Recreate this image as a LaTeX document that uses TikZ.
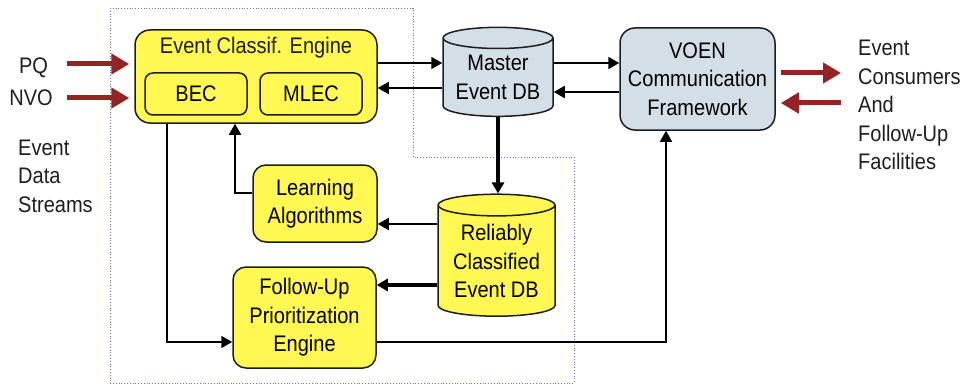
\documentclass[tikz,border=0pt]{standalone}
\usepackage{fontspec}
\setmainfont{Liberation Sans}[FakeStretch=0.89]
\usetikzlibrary{shapes.geometric,arrows.meta}
\definecolor{boxyellow}{RGB}{255,248,82}
\definecolor{dbblue}{RGB}{212,222,231}
\definecolor{flowred}{RGB}{150,35,35}
\definecolor{edgegray}{RGB}{30,30,30}
\definecolor{frameblue}{RGB}{110,110,210}
\begin{document}
\begin{tikzpicture}[x=1pt,y=-1pt,
  font=\fontsize{22.5}{28.5}\selectfont,
  box/.style={draw=edgegray, line width=1.5pt, fill=boxyellow, rounded corners=13pt, align=center, inner sep=0pt},
  db/.style={cylinder, shape border rotate=90, aspect=0.25, draw=edgegray, line width=1.5pt, align=center, inner sep=0pt},
  conn/.style={draw=black, line width=1.6pt, -{Triangle[length=11pt,width=12pt]}},
  bigconn/.style={conn, line width=3.5pt},
  feed/.style={draw=flowred, line width=5pt, -{Triangle[length=18pt,width=20pt]}},
  txt/.style={inner sep=0pt, text=edgegray}]
\useasboundingbox (0,0) rectangle (960,385);
% frame round the classification part
\draw[frameblue, dotted, line width=0.8pt] (110,8) -- (413,8) -- (413,157) -- (574,157) -- (574,383) -- (110,383) -- cycle;
% boxes
\node[box, minimum width=242pt, minimum height=93pt, rounded corners=15pt] (ece) at (256,76.5) {};
\node[txt] (ecet) at (256,48) {Event Classif. Engine};
\node[box, minimum width=102pt, minimum height=42pt, rounded corners=8pt] (bec) at (196,94) {BEC};
\node[box, minimum width=102pt, minimum height=42pt, rounded corners=8pt] (mlec) at (311,94) {MLEC};
\node[box, minimum width=124pt, minimum height=77pt] (learn) at (315,203.5) {Learning\\Algorithms};
\node[box, minimum width=143pt, minimum height=101pt] (follow) at (304.5,317.5) {Follow-Up\\Prioritization\\Engine};
\node[box, fill=dbblue, minimum width=155pt, minimum height=102pt, rounded corners=15pt] (voen) at (697.5,79) {VOEN\\Communication\\Framework};
\node[db, fill=dbblue, minimum width=110pt, minimum height=89pt] (master) at (498,77.5) {Master\\Event DB};
\node[db, fill=boxyellow, minimum width=117pt, minimum height=122pt] (rel) at (496.5,261) {Reliably\\Classified\\Event DB};
% labels
\node[txt] (pq) at (33.5,68) {PQ};
\node[txt] (nvo) at (31,98) {NVO};
\node[txt, anchor=west, align=left] (streams) at (18,176) {Event\\Data\\Streams};
\node[txt, anchor=west, align=left] (consumers) at (858,105) {Event\\Consumers\\And\\Follow-Up\\Facilities};
\coordinate (pqin) at (67,64);
\coordinate (nvoin) at (67,98);
\coordinate (outr) at (841,73);
\coordinate (inr) at (841,103);
% red flows
\draw[feed, shorten >=5pt] (pqin) -- (pqin -| ece.west);
\draw[feed, shorten >=5pt] (nvoin) -- (nvoin -| ece.west);
\draw[feed, shorten <=5pt] (outr -| voen.east) -- (outr);
\draw[feed, shorten >=5pt] (inr) -- (inr -| voen.east);
% connectors
\draw[conn] ([yshift=13.5]ece.east) -- ([yshift=13.5]ece.east -| master.west);
\draw[conn] ([yshift=-10.5]master.west) -- ([yshift=-10.5]master.west -| ece.east);
\draw[conn] ([yshift=14.5]master.east) -- ([yshift=14.5]master.east -| voen.west);
\draw[conn] ([yshift=-13]voen.west) -- ([yshift=-13]voen.west -| master.east);
\draw[bigconn] (master.south) -- (master.south |- rel.north);
\draw[conn] ([yshift=37]rel.west) -- ([yshift=37]rel.west -| learn.east);
\draw[bigconn] ([yshift=-24]rel.west) -- ([yshift=-24]rel.west -| follow.east);
\draw[conn] ([yshift=10.5]learn.west) -| ([xshift=-21]ece.south);
\draw[conn] ([xshift=-89]ece.south) |- ([yshift=-24.5]follow.west);
\draw[conn] ([yshift=-24.5]follow.east) -| ([xshift=-31.5]voen.south);
\end{tikzpicture}
\end{document}
